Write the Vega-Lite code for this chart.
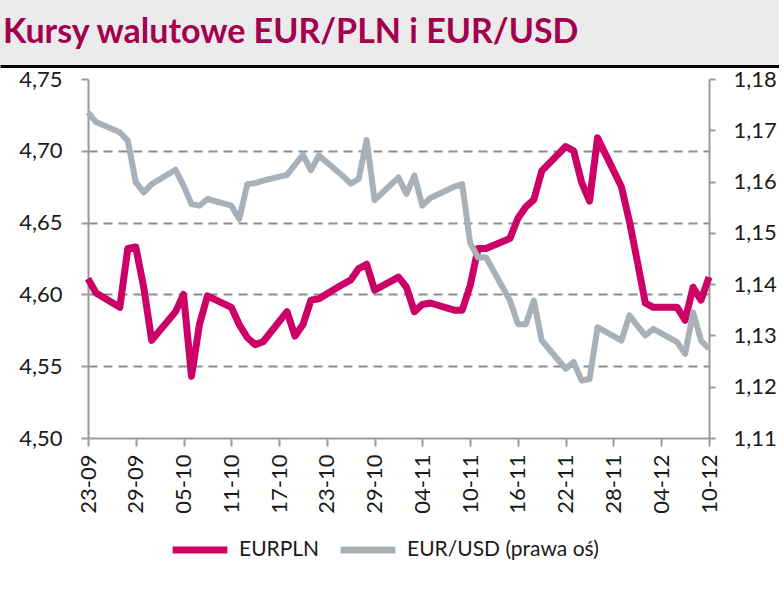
{
  "$schema": "https://vega.github.io/schema/vega-lite/v6.json",
  "padding": 0,
  "spacing": 2,
  "background": "white",
  "config": {
    "view": {"stroke": null},
    "axis": {"labelFont": "Lato", "labelFontSize": 22, "labelColor": "#1a1a1a", "domainColor": "#9a9a9a", "domainWidth": 2, "tickColor": "#9a9a9a", "tickWidth": 2}
  },
  "datasets": {
    "hdr": [{"t": "Kursy walutowe EUR/PLN i EUR/USD", "p": 0}],
    "fx": [
      {"d": "2021-09-23", "s": "EURPLN", "v": 4.611},
      {"d": "2021-09-24", "s": "EURPLN", "v": 4.601},
      {"d": "2021-09-27", "s": "EURPLN", "v": 4.591},
      {"d": "2021-09-28", "s": "EURPLN", "v": 4.632},
      {"d": "2021-09-29", "s": "EURPLN", "v": 4.633},
      {"d": "2021-09-30", "s": "EURPLN", "v": 4.605},
      {"d": "2021-10-01", "s": "EURPLN", "v": 4.568},
      {"d": "2021-10-04", "s": "EURPLN", "v": 4.588},
      {"d": "2021-10-05", "s": "EURPLN", "v": 4.600},
      {"d": "2021-10-06", "s": "EURPLN", "v": 4.543},
      {"d": "2021-10-07", "s": "EURPLN", "v": 4.579},
      {"d": "2021-10-08", "s": "EURPLN", "v": 4.599},
      {"d": "2021-10-11", "s": "EURPLN", "v": 4.591},
      {"d": "2021-10-12", "s": "EURPLN", "v": 4.579},
      {"d": "2021-10-13", "s": "EURPLN", "v": 4.570},
      {"d": "2021-10-14", "s": "EURPLN", "v": 4.565},
      {"d": "2021-10-15", "s": "EURPLN", "v": 4.567},
      {"d": "2021-10-18", "s": "EURPLN", "v": 4.588},
      {"d": "2021-10-19", "s": "EURPLN", "v": 4.571},
      {"d": "2021-10-20", "s": "EURPLN", "v": 4.579},
      {"d": "2021-10-21", "s": "EURPLN", "v": 4.596},
      {"d": "2021-10-22", "s": "EURPLN", "v": 4.597},
      {"d": "2021-10-25", "s": "EURPLN", "v": 4.607},
      {"d": "2021-10-26", "s": "EURPLN", "v": 4.610},
      {"d": "2021-10-27", "s": "EURPLN", "v": 4.618},
      {"d": "2021-10-28", "s": "EURPLN", "v": 4.621},
      {"d": "2021-10-29", "s": "EURPLN", "v": 4.603},
      {"d": "2021-11-01", "s": "EURPLN", "v": 4.612},
      {"d": "2021-11-02", "s": "EURPLN", "v": 4.605},
      {"d": "2021-11-03", "s": "EURPLN", "v": 4.588},
      {"d": "2021-11-04", "s": "EURPLN", "v": 4.593},
      {"d": "2021-11-05", "s": "EURPLN", "v": 4.594},
      {"d": "2021-11-08", "s": "EURPLN", "v": 4.589},
      {"d": "2021-11-09", "s": "EURPLN", "v": 4.589},
      {"d": "2021-11-10", "s": "EURPLN", "v": 4.606},
      {"d": "2021-11-11", "s": "EURPLN", "v": 4.632},
      {"d": "2021-11-12", "s": "EURPLN", "v": 4.632},
      {"d": "2021-11-15", "s": "EURPLN", "v": 4.639},
      {"d": "2021-11-16", "s": "EURPLN", "v": 4.653},
      {"d": "2021-11-17", "s": "EURPLN", "v": 4.661},
      {"d": "2021-11-18", "s": "EURPLN", "v": 4.666},
      {"d": "2021-11-19", "s": "EURPLN", "v": 4.686},
      {"d": "2021-11-22", "s": "EURPLN", "v": 4.703},
      {"d": "2021-11-23", "s": "EURPLN", "v": 4.700},
      {"d": "2021-11-24", "s": "EURPLN", "v": 4.678},
      {"d": "2021-11-25", "s": "EURPLN", "v": 4.665},
      {"d": "2021-11-26", "s": "EURPLN", "v": 4.709},
      {"d": "2021-11-29", "s": "EURPLN", "v": 4.675},
      {"d": "2021-11-30", "s": "EURPLN", "v": 4.651},
      {"d": "2021-12-01", "s": "EURPLN", "v": 4.623},
      {"d": "2021-12-02", "s": "EURPLN", "v": 4.594},
      {"d": "2021-12-03", "s": "EURPLN", "v": 4.591},
      {"d": "2021-12-06", "s": "EURPLN", "v": 4.591},
      {"d": "2021-12-07", "s": "EURPLN", "v": 4.582},
      {"d": "2021-12-08", "s": "EURPLN", "v": 4.605},
      {"d": "2021-12-09", "s": "EURPLN", "v": 4.596},
      {"d": "2021-12-10", "s": "EURPLN", "v": 4.612},
      {"d": "2021-09-23", "s": "EUR/USD (prawa oś)", "v": 1.1735},
      {"d": "2021-09-24", "s": "EUR/USD (prawa oś)", "v": 1.1716},
      {"d": "2021-09-27", "s": "EUR/USD (prawa oś)", "v": 1.1696},
      {"d": "2021-09-28", "s": "EUR/USD (prawa oś)", "v": 1.1680},
      {"d": "2021-09-29", "s": "EUR/USD (prawa oś)", "v": 1.1599},
      {"d": "2021-09-30", "s": "EUR/USD (prawa oś)", "v": 1.1579},
      {"d": "2021-10-01", "s": "EUR/USD (prawa oś)", "v": 1.1595},
      {"d": "2021-10-04", "s": "EUR/USD (prawa oś)", "v": 1.1623},
      {"d": "2021-10-05", "s": "EUR/USD (prawa oś)", "v": 1.1592},
      {"d": "2021-10-06", "s": "EUR/USD (prawa oś)", "v": 1.1556},
      {"d": "2021-10-07", "s": "EUR/USD (prawa oś)", "v": 1.1553},
      {"d": "2021-10-08", "s": "EUR/USD (prawa oś)", "v": 1.1566},
      {"d": "2021-10-11", "s": "EUR/USD (prawa oś)", "v": 1.1553},
      {"d": "2021-10-12", "s": "EUR/USD (prawa oś)", "v": 1.1527},
      {"d": "2021-10-13", "s": "EUR/USD (prawa oś)", "v": 1.1595},
      {"d": "2021-10-14", "s": "EUR/USD (prawa oś)", "v": 1.1597},
      {"d": "2021-10-15", "s": "EUR/USD (prawa oś)", "v": 1.1602},
      {"d": "2021-10-18", "s": "EUR/USD (prawa oś)", "v": 1.1613},
      {"d": "2021-10-19", "s": "EUR/USD (prawa oś)", "v": 1.1633},
      {"d": "2021-10-20", "s": "EUR/USD (prawa oś)", "v": 1.1652},
      {"d": "2021-10-21", "s": "EUR/USD (prawa oś)", "v": 1.1622},
      {"d": "2021-10-22", "s": "EUR/USD (prawa oś)", "v": 1.1651},
      {"d": "2021-10-25", "s": "EUR/USD (prawa oś)", "v": 1.1611},
      {"d": "2021-10-26", "s": "EUR/USD (prawa oś)", "v": 1.1596},
      {"d": "2021-10-27", "s": "EUR/USD (prawa oś)", "v": 1.1605},
      {"d": "2021-10-28", "s": "EUR/USD (prawa oś)", "v": 1.1681},
      {"d": "2021-10-29", "s": "EUR/USD (prawa oś)", "v": 1.1564},
      {"d": "2021-11-01", "s": "EUR/USD (prawa oś)", "v": 1.1608},
      {"d": "2021-11-02", "s": "EUR/USD (prawa oś)", "v": 1.1576},
      {"d": "2021-11-03", "s": "EUR/USD (prawa oś)", "v": 1.1612},
      {"d": "2021-11-04", "s": "EUR/USD (prawa oś)", "v": 1.1553},
      {"d": "2021-11-05", "s": "EUR/USD (prawa oś)", "v": 1.1568},
      {"d": "2021-11-08", "s": "EUR/USD (prawa oś)", "v": 1.1590},
      {"d": "2021-11-09", "s": "EUR/USD (prawa oś)", "v": 1.1595},
      {"d": "2021-11-10", "s": "EUR/USD (prawa oś)", "v": 1.1480},
      {"d": "2021-11-11", "s": "EUR/USD (prawa oś)", "v": 1.1452},
      {"d": "2021-11-12", "s": "EUR/USD (prawa oś)", "v": 1.1452},
      {"d": "2021-11-15", "s": "EUR/USD (prawa oś)", "v": 1.1368},
      {"d": "2021-11-16", "s": "EUR/USD (prawa oś)", "v": 1.1322},
      {"d": "2021-11-17", "s": "EUR/USD (prawa oś)", "v": 1.1322},
      {"d": "2021-11-18", "s": "EUR/USD (prawa oś)", "v": 1.1368},
      {"d": "2021-11-19", "s": "EUR/USD (prawa oś)", "v": 1.1290},
      {"d": "2021-11-22", "s": "EUR/USD (prawa oś)", "v": 1.1235},
      {"d": "2021-11-23", "s": "EUR/USD (prawa oś)", "v": 1.1248},
      {"d": "2021-11-24", "s": "EUR/USD (prawa oś)", "v": 1.1212},
      {"d": "2021-11-25", "s": "EUR/USD (prawa oś)", "v": 1.1215},
      {"d": "2021-11-26", "s": "EUR/USD (prawa oś)", "v": 1.1316},
      {"d": "2021-11-29", "s": "EUR/USD (prawa oś)", "v": 1.1290},
      {"d": "2021-11-30", "s": "EUR/USD (prawa oś)", "v": 1.1339},
      {"d": "2021-12-01", "s": "EUR/USD (prawa oś)", "v": 1.1319},
      {"d": "2021-12-02", "s": "EUR/USD (prawa oś)", "v": 1.1300},
      {"d": "2021-12-03", "s": "EUR/USD (prawa oś)", "v": 1.1313},
      {"d": "2021-12-06", "s": "EUR/USD (prawa oś)", "v": 1.1287},
      {"d": "2021-12-07", "s": "EUR/USD (prawa oś)", "v": 1.1264},
      {"d": "2021-12-08", "s": "EUR/USD (prawa oś)", "v": 1.1345},
      {"d": "2021-12-09", "s": "EUR/USD (prawa oś)", "v": 1.1290},
      {"d": "2021-12-10", "s": "EUR/USD (prawa oś)", "v": 1.1274}
    ]
  },
  "vconcat": [
    {
      "width": 779,
      "height": 66,
      "view": {"fill": "#ebebeb", "stroke": null},
      "data": {"name": "hdr"},
      "mark": {"type": "text", "align": "left", "baseline": "alphabetic", "dx": 3, "dy": 10, "font": "Lato", "fontSize": 34, "fontWeight": "bold", "color": "#a3004f"},
      "encoding": {
        "x": {"field": "p", "type": "quantitative", "scale": {"domain": [0, 1]}, "axis": {"labels": false, "ticks": false, "grid": false, "title": null, "domainColor": "#000000", "domainWidth": 3}},
        "text": {"field": "t"}
      }
    },
    {
      "width": 709,
      "height": 359,
      "data": {"name": "fx"},
      "encoding": {
        "x": {
          "field": "d", "type": "temporal",
          "scale": {"type": "utc", "range": [88, 709], "domain": [{"year": 2021, "month": 9, "date": 23, "utc": true}, {"year": 2021, "month": 12, "date": 10, "utc": true}]},
          "axis": {
            "title": null, "grid": false,
            "values": [
              {"year": 2021, "month": 9, "date": 23, "utc": true},
              {"year": 2021, "month": 9, "date": 29, "utc": true},
              {"year": 2021, "month": 10, "date": 5, "utc": true},
              {"year": 2021, "month": 10, "date": 11, "utc": true},
              {"year": 2021, "month": 10, "date": 17, "utc": true},
              {"year": 2021, "month": 10, "date": 23, "utc": true},
              {"year": 2021, "month": 10, "date": 29, "utc": true},
              {"year": 2021, "month": 11, "date": 4, "utc": true},
              {"year": 2021, "month": 11, "date": 10, "utc": true},
              {"year": 2021, "month": 11, "date": 16, "utc": true},
              {"year": 2021, "month": 11, "date": 22, "utc": true},
              {"year": 2021, "month": 11, "date": 28, "utc": true},
              {"year": 2021, "month": 12, "date": 4, "utc": true},
              {"year": 2021, "month": 12, "date": 10, "utc": true}
            ],
            "labelExpr": "utcFormat(datum.value, '%d-%m')",
            "labelAngle": 270, "tickSize": 8, "labelPadding": 8
          }
        },
        "color": {
          "field": "s", "type": "nominal",
          "scale": {"domain": ["EURPLN", "EUR/USD (prawa oś)"], "range": ["#cc0066", "#a9b1b8"]},
          "legend": {"title": null, "orient": "none", "legendX": 169, "legendY": 519, "padding": 0, "direction": "horizontal", "symbolType": "stroke", "symbolSize": 3000, "symbolStrokeWidth": 7, "labelFont": "Lato", "labelFontSize": 21, "labelColor": "#1a1a1a", "labelOffset": 8, "labelLimit": 400, "columnPadding": 6}
        }
      },
      "layer": [
        {
          "transform": [{"filter": "datum.s == 'EURPLN'"}],
          "mark": {"type": "line", "strokeWidth": 7, "strokeJoin": "round"},
          "encoding": {
            "y": {
              "field": "v", "type": "quantitative",
              "scale": {"domain": [4.5, 4.75], "zero": false, "nice": false},
              "axis": {
                "title": null, "offset": -88, "values": [4.5, 4.55, 4.6, 4.65, 4.7, 4.75],
                "labelExpr": "replace(format(datum.value, '.2f'), '.', ',')",
                "tickSize": 7, "labelPadding": 19,
                "grid": true, "gridColor": "#8c8c8c", "gridWidth": 2, "gridDash": [9, 6],
                "gridOpacity": {"condition": {"test": "datum.value < 4.52 || datum.value > 4.73", "value": 0}, "value": 1}
              }
            }
          }
        },
        {
          "transform": [{"filter": "datum.s != 'EURPLN'"}],
          "mark": {"type": "line", "strokeWidth": 6, "strokeJoin": "round"},
          "encoding": {
            "y": {
              "field": "v", "type": "quantitative",
              "scale": {"domain": [1.11, 1.18], "zero": false, "nice": false},
              "axis": {
                "title": null, "orient": "right", "values": [1.11, 1.12, 1.13, 1.14, 1.15, 1.16, 1.17, 1.18],
                "labelExpr": "replace(format(datum.value, '.2f'), '.', ',')",
                "tickSize": 6, "labelPadding": 18, "grid": false
              }
            }
          }
        }
      ],
      "resolve": {"scale": {"y": "independent"}}
    }
  ]
}
